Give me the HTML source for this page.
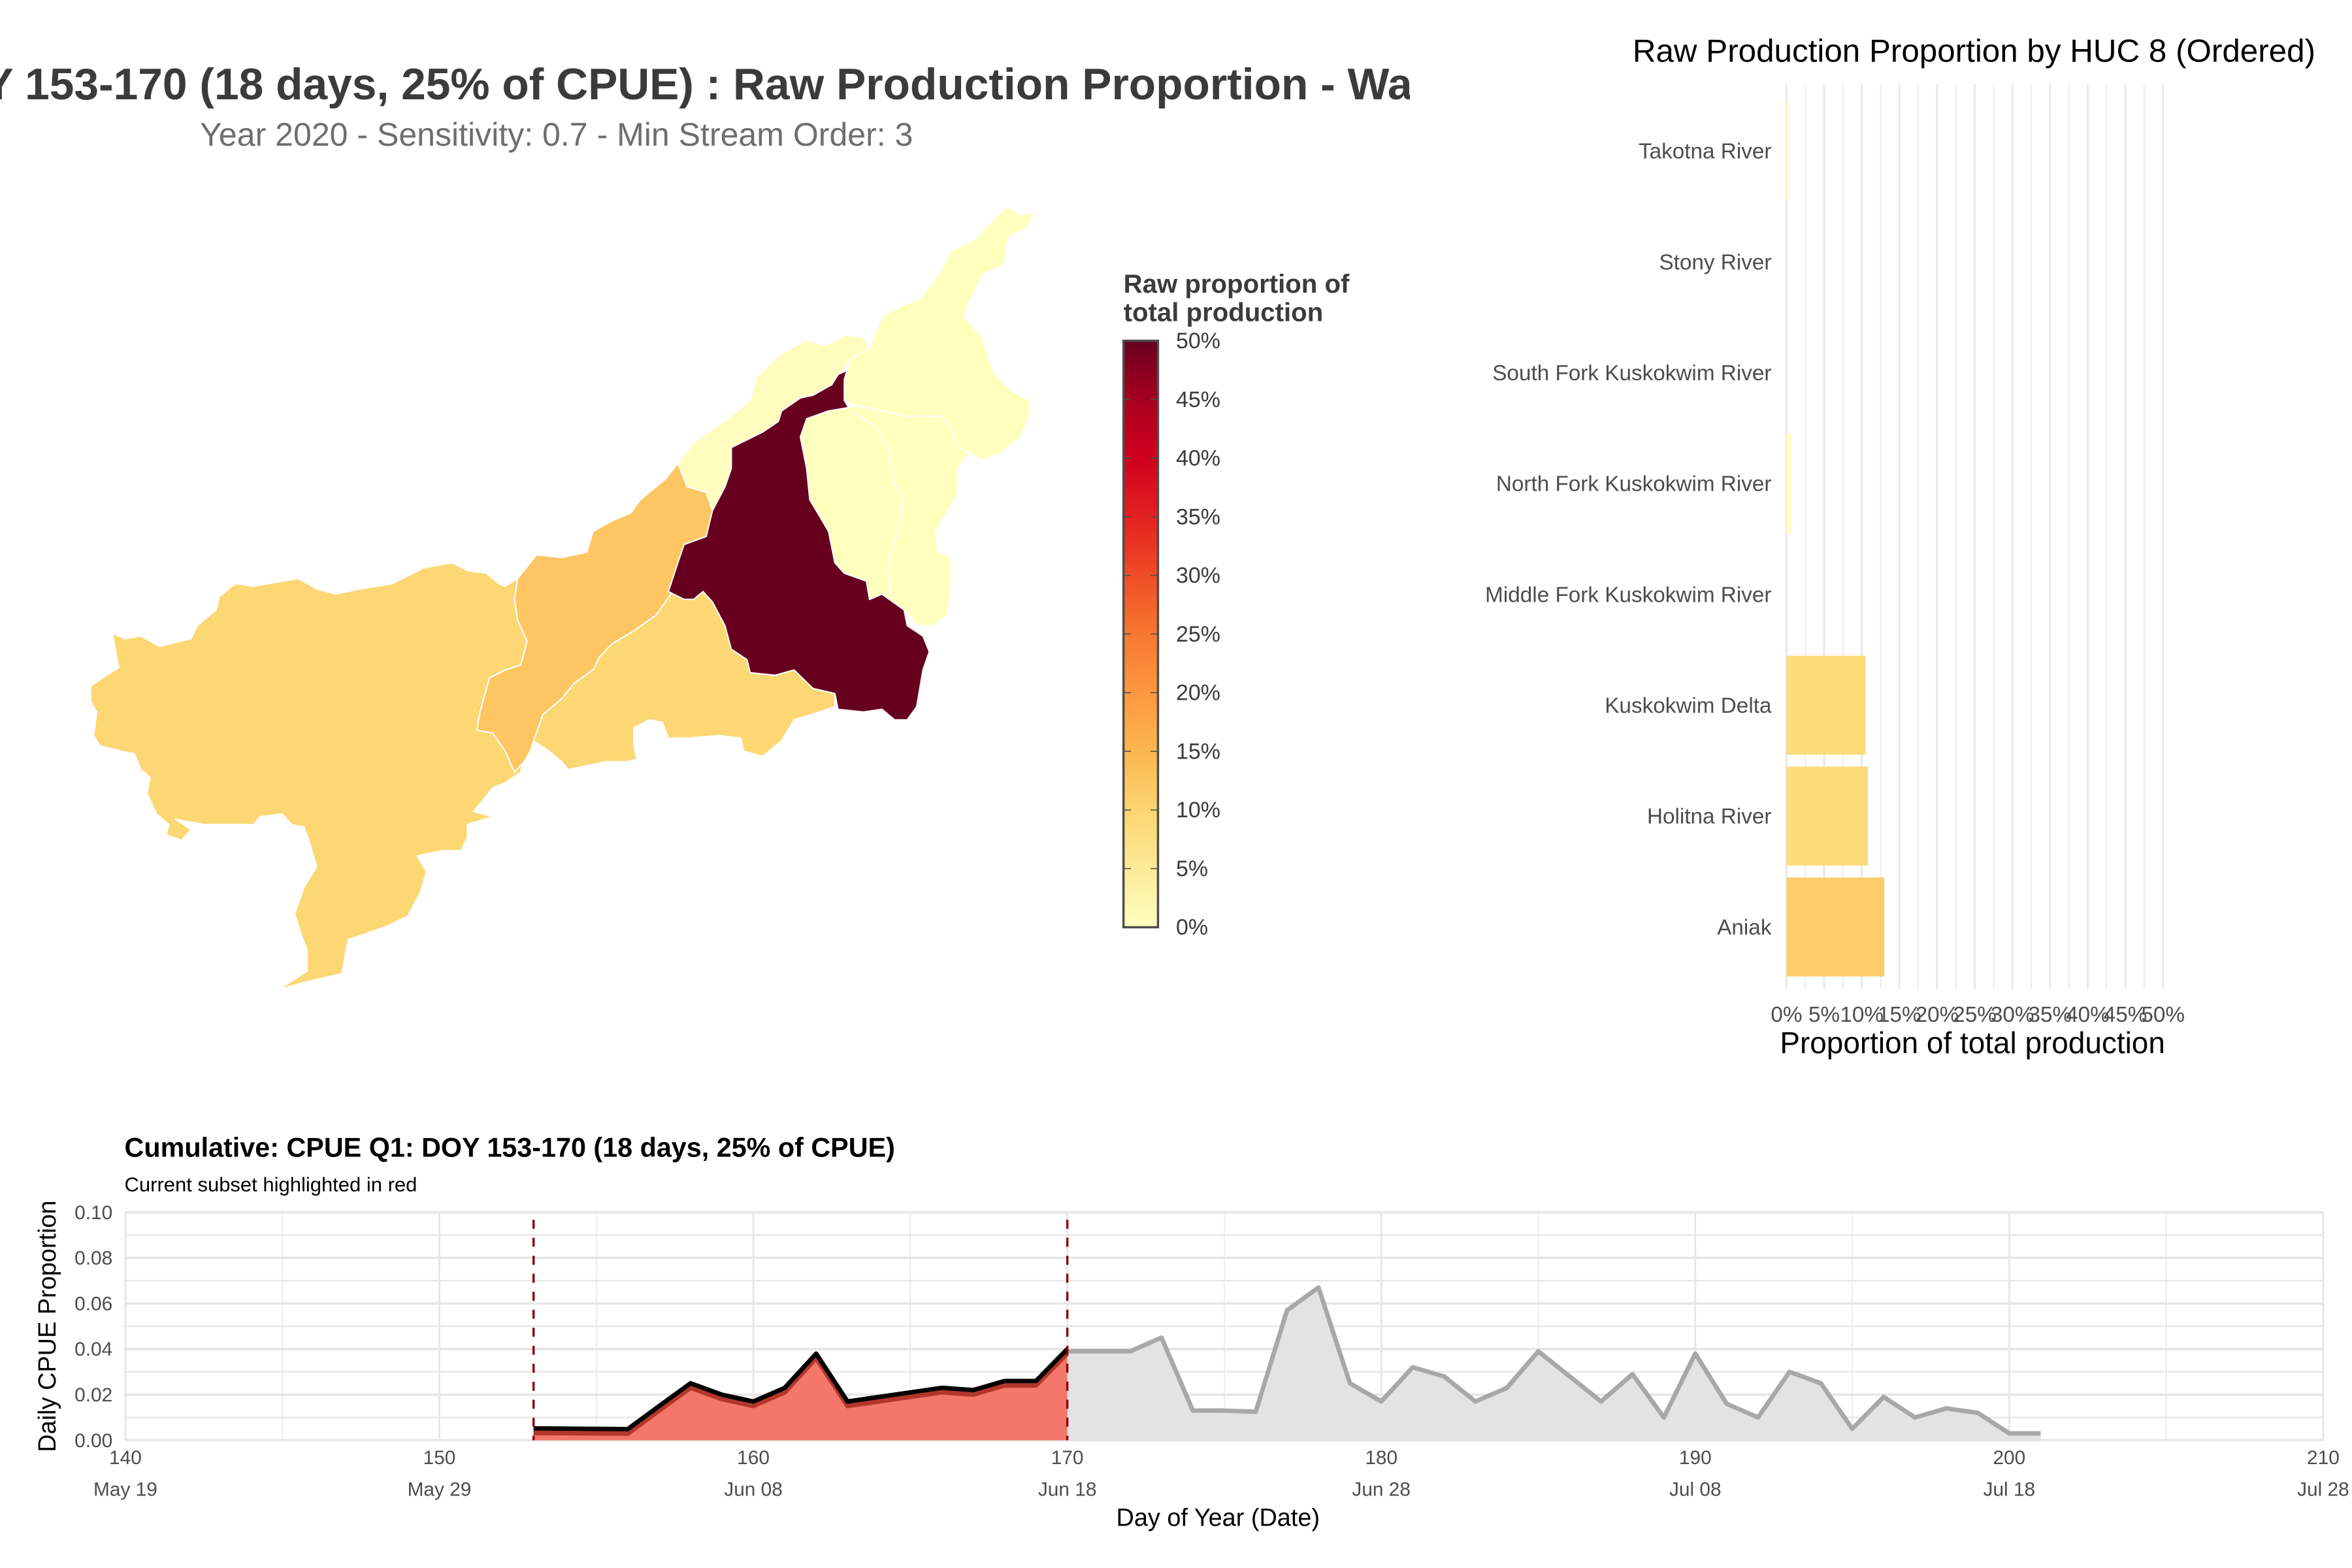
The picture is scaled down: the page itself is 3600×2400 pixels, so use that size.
<!DOCTYPE html>
<html><head><meta charset="utf-8"><style>
html,body{margin:0;padding:0;background:#fff}
svg{display:block;font-family:"Liberation Sans",Arial,sans-serif}
</style></head><body>
<svg id="root" width="3600" height="2400" viewBox="0 0 1568 1045" xmlns="http://www.w3.org/2000/svg">
<defs>
<linearGradient id="ylorrd" x1="0" y1="1" x2="0" y2="0">
<stop offset="0" stop-color="#ffffbf"/><stop offset="0.2" stop-color="#fcd571"/><stop offset="0.3" stop-color="#fcb64e"/><stop offset="0.4" stop-color="#fd9840"/><stop offset="0.5" stop-color="#f87830"/><stop offset="0.6" stop-color="#f04c28"/><stop offset="0.7" stop-color="#e32120"/><stop offset="0.8" stop-color="#d0001d"/><stop offset="0.9" stop-color="#a8001f"/><stop offset="1" stop-color="#67001f"/>
</linearGradient>
<clipPath id="titleclip"><rect x="0" y="0" width="940" height="120"/></clipPath>
</defs>
<g clip-path="url(#titleclip)">
<text x="-55" y="66" font-size="29.5" font-weight="bold" fill="#3b3b3b">DOY 153-170 (18 days, 25% of CPUE) : Raw Production Proportion - Watershed</text>
</g>
<text x="371" y="97" font-size="21.8" fill="#6e6e6e" text-anchor="middle">Year 2020 - Sensitivity: 0.7 - Min Stream Order: 3</text>

<g id="map" stroke="#fff" stroke-width="0.9" stroke-linejoin="round"></g>

<g id="legend">
<text x="749" y="195" font-size="17.5" font-weight="bold" fill="#3b3b3b">Raw proportion of</text>
<text x="749" y="214" font-size="17.5" font-weight="bold" fill="#3b3b3b">total production</text>
<rect x="749" y="227" width="23" height="391" fill="url(#ylorrd)" stroke="#4d4d4d" stroke-width="1.5"/>
<g id="legendTicks"></g>
</g>

<g id="barchart">
<text x="1316" y="41" font-size="21.5" fill="#000" text-anchor="middle">Raw Production Proportion by HUC 8 (Ordered)</text>
<g id="barGrid"></g><g id="bars"></g><g id="barLabels"></g><g id="barTicks"></g>
<text x="1315" y="702" font-size="20" fill="#000" text-anchor="middle">Proportion of total production</text>
</g>

<g id="cpue">
<text x="83" y="771" font-size="18" font-weight="bold" fill="#000">Cumulative: CPUE Q1: DOY 153-170 (18 days, 25% of CPUE)</text>
<text x="83" y="794" font-size="13.5" fill="#000">Current subset highlighted in red</text>
<g id="cGrid"></g><g id="cMarks"></g><g id="cTicks"></g>
<text x="812" y="1017" font-size="16.5" fill="#000" text-anchor="middle">Day of Year (Date)</text>
<text transform="translate(37,884) rotate(-90)" font-size="16.5" fill="#000" text-anchor="middle">Daily CPUE Proportion</text>
</g>
</svg>
<script>
const NS='http://www.w3.org/2000/svg';
const legendTickValues=[0,5,10,15,20,25,30,35,40,45,50];
const barCategories=['Takotna River','Stony River','South Fork Kuskokwim River','North Fork Kuskokwim River','Middle Fork Kuskokwim River','Kuskokwim Delta','Holitna River','Aniak'];
const barValues=[0.3,0,0,0.6,0,10.5,10.8,13.0];
const barColors=['#ffffbf','#ffffbf','#ffffbf','#ffffbf','#ffffbf','#fcdb7a','#fcdb7a','#fdcd6b'];
const barTickValues=[0,5,10,15,20,25,30,35,40,45,50];
const cpueDays=[153,154,155,156,157,158,159,160,161,162,163,164,165,166,167,168,169,170,171,172,173,174,175,176,177,178,179,180,181,182,183,184,185,186,187,188,189,190,191,192,193,194,195,196,197,198,199,200,201];
const cpueValues=[0.0042,0.0041,0.004,0.0039,0.014,0.024,0.019,0.016,0.022,0.037,0.016,0.018,0.020,0.022,0.021,0.025,0.025,0.039,0.039,0.039,0.045,0.013,0.013,0.0125,0.057,0.067,0.025,0.017,0.032,0.028,0.017,0.023,0.039,0.028,0.017,0.029,0.010,0.038,0.016,0.010,0.030,0.025,0.005,0.019,0.010,0.014,0.012,0.003,0.003];
const subsetStart=153, subsetEnd=170;
const xTickDays=[140,150,160,170,180,190,200,210];
const xTickDates=['May 19','May 29','Jun 08','Jun 18','Jun 28','Jul 08','Jul 18','Jul 28'];
const yTickValues=[0,0.02,0.04,0.06,0.08,0.10];
const yTickLabels=['0.00','0.02','0.04','0.06','0.08','0.10'];

function mk(tag,attrs,parent,text){const e=document.createElementNS(NS,tag);for(const k in attrs)e.setAttribute(k,attrs[k]);if(text!==undefined)e.textContent=text;parent.appendChild(e);return e;}

// map (outline vertices traced in a local frame, mapped to page units)
const mapG=document.getElementById('map');
const tp=a=>a.map(p=>(p[0]*0.4188+43.6).toFixed(1)+','+(p[1]*0.349+130.7).toFixed(1)).join(' ');
const regions=[
 ['region-kuskokwim-delta','#fcd773',[[75,835],[80,870],[85,900],[40,935],[40,965],[50,985],[45,1030],[55,1050],[90,1060],[110,1065],[120,1095],[135,1110],[130,1140],[145,1180],[165,1200],[160,1220],[185,1230],[200,1210],[175,1190],[220,1200],[270,1200],[300,1200],[310,1185],[345,1180],[360,1200],[380,1205],[390,1240],[400,1280],[380,1320],[365,1370],[375,1410],[385,1440],[385,1480],[340,1515],[385,1500],[440,1485],[450,1420],[510,1395],[545,1375],[565,1330],[575,1290],[560,1260],[600,1250],[630,1250],[640,1225],[640,1200],[680,1185],[650,1175],[680,1130],[700,1120],[725,1100],[730,1070],[720,1050],[700,1035],[680,1025],[655,1020],[660,985],[675,920],[700,905],[725,895],[735,850],[720,810],[715,770],[720,730],[700,745],[690,740],[670,720],[640,715],[615,700],[570,710],[520,740],[470,750],[430,760],[400,750],[370,730],[300,745],[270,740],[245,765],[240,790],[210,820],[200,845],[150,860],[120,840],[95,845]]],
 ['region-aniak','#fdc662',[[655,1020],[660,985],[675,920],[700,905],[725,895],[735,850],[720,810],[715,770],[720,730],[750,685],[790,690],[830,680],[840,640],[870,620],[900,605],[915,580],[955,540],[975,510],[990,555],[1020,565],[1030,600],[1020,650],[985,665],[975,700],[970,750],[955,775],[940,800],[905,830],[870,855],[850,880],[840,905],[810,930],[790,960],[760,990],[750,1025],[740,1060],[730,1080],[715,1100],[700,1060],[680,1025]]],
 ['region-holitna','#fcd773',[[750,1025],[760,990],[790,960],[810,930],[840,905],[850,880],[870,855],[905,830],[940,800],[955,775],[970,750],[1000,770],[1015,755],[1030,775],[1050,820],[1060,865],[1085,885],[1090,910],[1130,915],[1160,905],[1190,940],[1225,950],[1225,975],[1200,985],[1160,1000],[1140,1040],[1110,1070],[1080,1060],[1075,1035],[1040,1030],[990,1035],[960,1035],[950,1005],[930,1000],[905,1015],[905,1050],[910,1075],[895,1080],[860,1080],[840,1085],[800,1095],[790,1080],[770,1060],[745,1040]]],
 ['region-max-production','#67001f',[[960,755],[975,700],[985,665],[1020,650],[1030,600],[1050,555],[1060,520],[1060,480],[1110,450],[1135,430],[1140,410],[1170,385],[1190,380],[1220,360],[1230,340],[1265,322],[1240,350],[1240,390],[1250,410],[1215,410],[1180,425],[1170,460],[1180,520],[1185,580],[1200,610],[1215,640],[1225,700],[1240,720],[1275,735],[1280,770],[1300,760],[1335,790],[1340,820],[1365,840],[1375,870],[1365,905],[1360,940],[1355,975],[1340,1000],[1320,1000],[1300,980],[1270,985],[1230,980],[1225,950],[1190,940],[1160,905],[1130,915],[1090,910],[1085,885],[1060,865],[1050,820],[1030,775],[1015,755],[1000,770],[985,770]]],
 ['region-takotna','#fffcbd',[[975,510],[1000,470],[1030,445],[1060,420],[1090,390],[1100,345],[1140,300],[1180,275],[1210,285],[1240,265],[1270,270],[1280,290],[1250,310],[1240,330],[1230,340],[1220,360],[1190,380],[1170,385],[1140,410],[1135,430],[1110,450],[1060,480],[1060,520],[1050,555],[1030,600],[1020,565],[990,555]]],
 ['region-north-fork','#ffffbe',[[1280,290],[1300,230],[1330,210],[1360,195],[1390,150],[1410,105],[1450,80],[1480,40],[1500,20],[1520,35],[1545,30],[1530,60],[1500,80],[1495,130],[1460,150],[1440,200],[1430,230],[1460,270],[1470,310],[1480,340],[1510,375],[1535,390],[1535,420],[1520,460],[1490,490],[1460,505],[1440,490],[1420,480],[1410,440],[1395,420],[1340,420],[1300,410],[1260,400],[1240,390],[1240,350],[1250,310]]],
 ['region-middle-fork','#ffffbe',[[1180,425],[1215,410],[1240,405],[1260,400],[1300,410],[1340,420],[1395,420],[1410,440],[1420,480],[1440,490],[1420,520],[1420,570],[1400,610],[1385,640],[1390,680],[1410,690],[1410,740],[1405,800],[1380,820],[1355,820],[1335,790],[1300,760],[1280,770],[1275,735],[1240,720],[1225,700],[1215,640],[1200,610],[1185,580],[1180,520],[1170,460]]]
];
regions.forEach(r=>{
  const p=mk('polygon',{fill:r[1],points:tp(r[2])},mapG);
  
  
});
const inner=mk('polyline',{fill:'none',points:tp([[1250,410],[1290,440],[1310,480],[1320,550],[1335,580],[1325,640],[1310,700],[1315,765]])},mapG);



// legend
const lg=document.getElementById('legendTicks');
const ly=v=>618-v/50*391;
legendTickValues.forEach(v=>{
  if(v>0&&v<50){mk('line',{x1:749,x2:754,y1:ly(v),y2:ly(v),stroke:'#4d4d4d','stroke-width':0.7},lg);mk('line',{x1:767,x2:772,y1:ly(v),y2:ly(v),stroke:'#4d4d4d','stroke-width':0.7},lg);}
  const t=mk('text',{x:784,y:ly(v)+5,'font-size':14.8,fill:'#3b3b3b'},lg,v+'%');
  
  
});

// bar chart
const bx=v=>1191+v*5.02;
const by=i=>100.5+i*73.9;
const bg=document.getElementById('barGrid'), bb=document.getElementById('bars'), bl=document.getElementById('barLabels'), bt=document.getElementById('barTicks');
for(let v=0;v<=50;v+=2.5){mk('line',{x1:bx(v),x2:bx(v),y1:56,y2:659,stroke:'#e8e8e8','stroke-width':(v%5===0)?1.3:0.7},bg);}
barCategories.forEach((c,i)=>{
  const r=mk('rect',{x:bx(0),y:by(i)-33,width:Math.max(0,bx(barValues[i])-bx(0)),height:66,fill:barColors[i]},bb);
  
  
  const t=mk('text',{x:1181,y:by(i)+5,'font-size':14.5,fill:'#4d4d4d','text-anchor':'end'},bl,c);
  
  
});
barTickValues.forEach(v=>{
  const t=mk('text',{x:bx(v),y:681,'font-size':14.5,fill:'#4d4d4d','text-anchor':'middle'},bt,v+'%');
  
  
});

// cpue chart
const cx=d=>83.6+(d-140)*(1548.8-83.6)/70;
const cy=v=>960-v*1520;
const cgr=document.getElementById('cGrid'), cm=document.getElementById('cMarks'), ct=document.getElementById('cTicks');
for(let v=0;v<=0.1001;v+=0.01){const maj=Math.round(v*100)%2===0;mk('line',{x1:83.6,x2:1548.8,y1:cy(v),y2:cy(v),stroke:'#e6e6e6','stroke-width':maj?1.6:1},cgr);}
for(let d=140;d<=210;d+=5){const maj=d%10===0;mk('line',{x1:cx(d),x2:cx(d),y1:cy(0.1),y2:cy(0),stroke:'#e6e6e6','stroke-width':maj?1.2:0.6},cgr);}
function pts(filter){const a=[];cpueDays.forEach((d,i)=>{if(filter(d))a.push([cx(d),cy(cpueValues[i])]);});return a;}
const rest=pts(d=>d>=subsetEnd), sub=pts(d=>d>=subsetStart&&d<=subsetEnd);
const area=(p)=>'M'+p[0][0]+','+cy(0)+' '+p.map(q=>'L'+q[0]+','+q[1]).join(' ')+' L'+p[p.length-1][0]+','+cy(0)+'Z';
const line=(p)=>'M'+p.map(q=>q[0]+','+q[1]).join(' L');
let e=mk('path',{d:area(rest),fill:'#e3e3e3'},cm);


e=mk('path',{d:line(rest),fill:'none',stroke:'#a8a8a8','stroke-width':3,'stroke-linejoin':'round'},cm);


e=mk('path',{d:area(sub),fill:'#f4776a'},cm);


e=mk('path',{d:line(sub),fill:'none',stroke:'#b3362b','stroke-width':3,'stroke-linejoin':'round',transform:'translate(0,1.5)'},cm);


e=mk('path',{d:line(sub),fill:'none',stroke:'#000','stroke-width':3,'stroke-linejoin':'round',transform:'translate(0,-1.5)'},cm);


[subsetStart,subsetEnd].forEach(d=>{
  const l=mk('line',{x1:cx(d),x2:cx(d),y1:813,y2:cy(0),stroke:'#8b0000','stroke-width':1.5,'stroke-dasharray':'6,6'},cm);
  
  
});
yTickValues.forEach((v,i)=>{
  const t=mk('text',{x:75,y:cy(v)+4.5,'font-size':13,fill:'#4d4d4d','text-anchor':'end'},ct,yTickLabels[i]);
  
  
});
xTickDays.forEach((d,i)=>{
  const t=mk('text',{x:cx(d),y:976,'font-size':13,fill:'#4d4d4d','text-anchor':'middle'},ct,String(d));
  
  
  const t2=mk('text',{x:cx(d),y:997,'font-size':13,fill:'#4d4d4d','text-anchor':'middle'},ct,xTickDates[i]);
  
  
});
</script>
</body></html>
